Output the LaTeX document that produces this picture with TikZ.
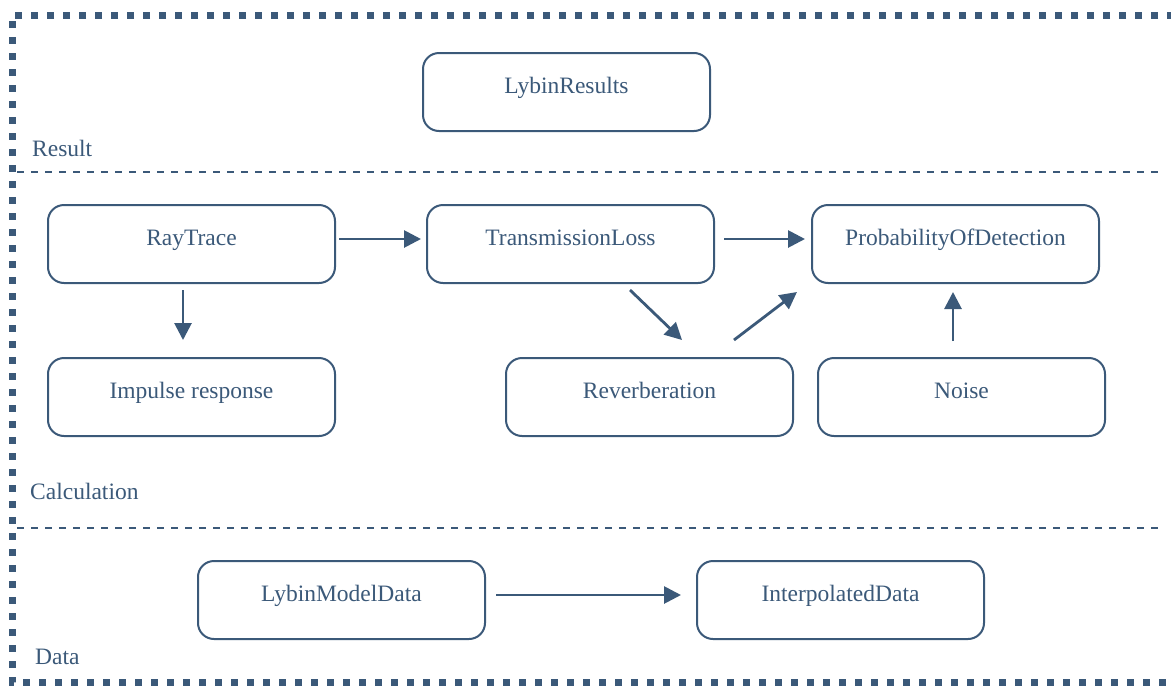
\documentclass[tikz,border=0pt]{standalone}
\usepackage{fontspec}
\setmainfont{Liberation Serif}
\usetikzlibrary{arrows.meta}
\definecolor{steel}{RGB}{59,89,121}
\tikzset{
  box/.style={draw=steel, line width=2pt, rounded corners=16pt, minimum width=287pt, minimum height=78pt,
    text height=17pt, text depth=15pt, inner sep=0pt, text=steel, font=\fontsize{23.5}{28}\selectfont, fill=white},
  arr/.style={draw=steel, line width=2.8pt, -{Triangle[length=17pt,width=17pt]}},
  sep/.style={draw=steel, line width=1.5pt, dash pattern=on 7pt off 7pt},
  frame/.style={draw=steel, line width=7pt, dash pattern=on 7pt off 9pt},
  lbl/.style={anchor=base west, inner sep=0pt, text=steel, font=\fontsize{23.5}{28}\selectfont}
}
\begin{document}
\begin{tikzpicture}[x=1pt,y=-1pt]
\useasboundingbox (0,0) rectangle (1171,686);
\fill[white] (0,0) rectangle (1171,686);
% frame
\draw[frame] (1190,15) -- (12,15) -- (12,682) -- (1190,682);
% separators
\draw[sep] (17,172) -- (1160,172);
\draw[sep] (17,528) -- (1160,528);
% section labels
\node[lbl] (lres) at (32,156) {Result};
\node[lbl] (lcalc) at (30,499) {Calculation};
\node[lbl] (ldata) at (35,664) {Data};
% boxes
\node[box] (lr) at (566.5,92) {LybinResults};
\node[box] (rt) at (191.5,244) {RayTrace};
\node[box] (tl) at (570.5,244) {TransmissionLoss};
\node[box] (pod) at (955.5,244) {ProbabilityOfDetection};
\node[box] (ir) at (191.5,397) {Impulse response};
\node[box] (rev) at (649.5,397) {Reverberation};
\node[box] (noise) at (961.5,397) {Noise};
\node[box] (lmd) at (341.5,600) {LybinModelData};
\node[box] (id) at (840.5,600) {InterpolatedData};
% arrows
\draw[arr] ([xshift=3pt,yshift=5pt]rt.east) -- ([xshift=-5pt,yshift=5pt]tl.west);
\draw[arr] ([xshift=9pt,yshift=5pt]tl.east) -- ([xshift=-6pt,yshift=5pt]pod.west);
\draw[arr] ([xshift=-8.5pt,yshift=-6pt]rt.south) -- ([xshift=-8.5pt,yshift=17pt]ir.north);
\draw[arr] ([xshift=59.5pt,yshift=-6pt]tl.south) -- ([xshift=32.5pt,yshift=17pt]rev.north);
\draw[arr] ([xshift=84.5pt,yshift=17pt]rev.north) -- ([xshift=-158.5pt,yshift=-8pt]pod.south);
\draw[arr] ([xshift=-8.5pt,yshift=16pt]noise.north) -- ([xshift=-2.5pt,yshift=-8pt]pod.south);
\draw[arr] ([xshift=10pt,yshift=5pt]lmd.east) -- ([xshift=-15pt,yshift=5pt]id.west);
\end{tikzpicture}
\end{document}
